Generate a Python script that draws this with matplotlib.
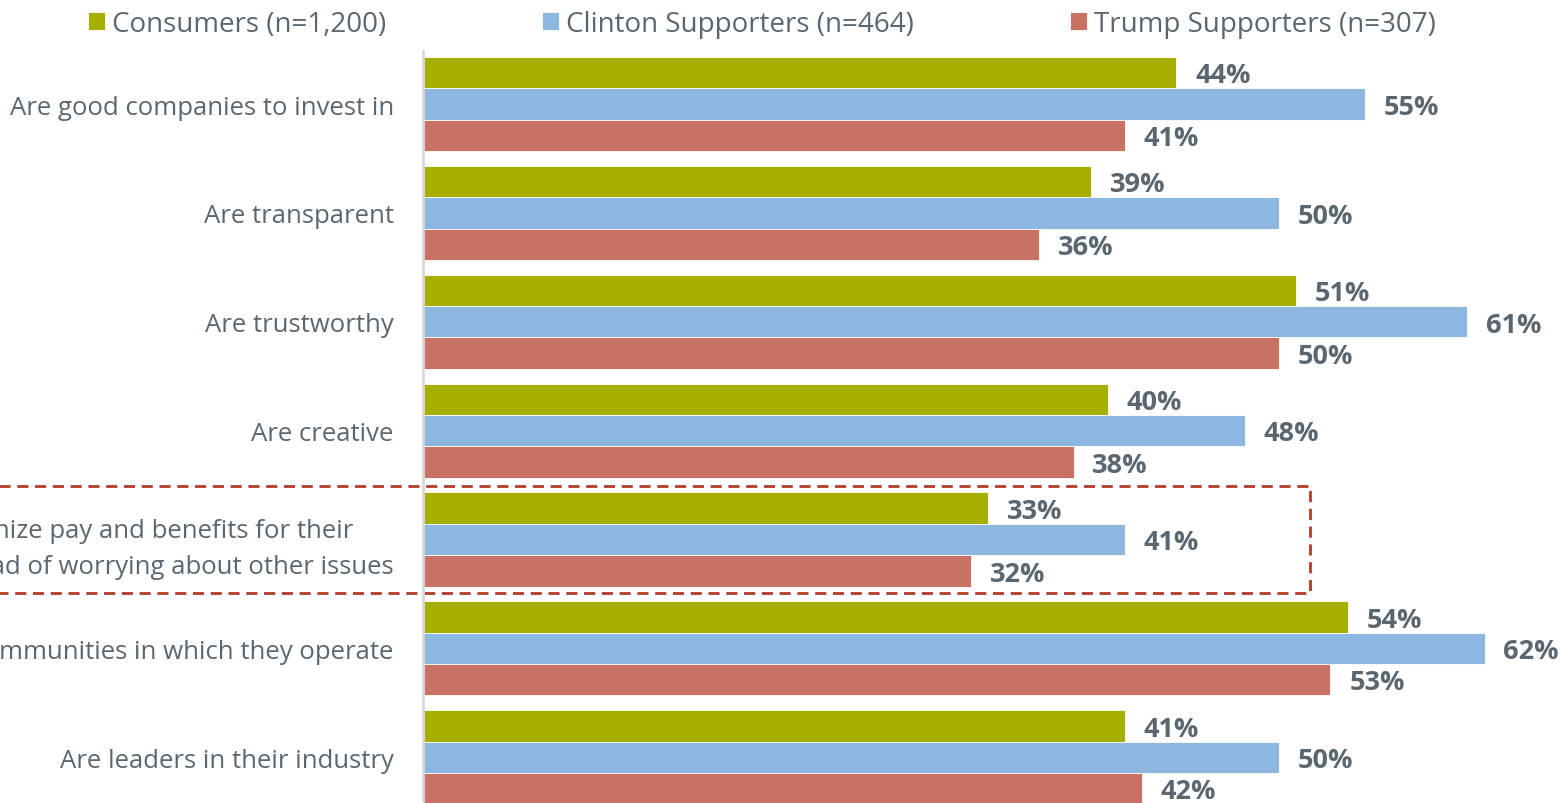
import matplotlib.pyplot as plt
from matplotlib.patches import Rectangle
import numpy as np

plt.rcParams['font.family'] = ['Open Sans', 'DejaVu Sans']

categories = [
    "Are good companies to invest in",
    "Are transparent",
    "Are trustworthy",
    "Are creative",
    "Should maximize pay and benefits for their\nemployees instead of worrying about other issues",
    "Are good for the communities in which they operate",
    "Are leaders in their industry",
]
series = ["Consumers (n=1,200)", "Clinton Supporters (n=464)", "Trump Supporters (n=307)"]
consumers = [44, 39, 51, 40, 33, 54, 41]
clinton = [55, 50, 61, 48, 41, 62, 50]
trump = [41, 36, 50, 38, 32, 53, 42]
highlight = 4

colors = ["#a6ae00", "#8db7de", "#c77264"]
text_gray = "#5b6770"

fig = plt.figure(figsize=(15.63, 8.04), dpi=100)
ax = fig.add_axes([0.2706, 0.0, 0.723, 0.9353])

y = np.arange(len(categories))
h = 0.288
for k, (vals, col) in enumerate(zip([consumers, clinton, trump], colors)):
    pos = y + (k - 1) * h
    ax.barh(pos, vals, height=h, color=col, edgecolor="white", linewidth=0.6, label=series[k])
    for p, v in zip(pos, vals):
        # small downward nudge so the bold digits sit centred on the bar
        ax.text(v + 1.1, p + 0.025, f"{v}%", va="center", ha="left", fontsize=19.5,
                fontweight="bold", color=text_gray)

ax.set_xlim(0, 66)
ax.set_ylim(6.42, -0.487)
ax.set_yticks(y)
ax.set_yticklabels(categories, fontsize=18.5, color=text_gray, multialignment="center")
for t in ax.get_yticklabels():
    t.set_linespacing(1.6)
ax.tick_params(axis="y", length=0, pad=21)
ax.set_xticks([])
for s in ["top", "right", "bottom"]:
    ax.spines[s].set_visible(False)
ax.spines["left"].set_color("#d9d9d9")
ax.spines["left"].set_linewidth(2)

# dashed box around the pay-and-benefits group
box = Rectangle((-40, highlight - 0.49), 40 + 51.8, 0.98, fill=False,
                edgecolor="#b33b2a", linestyle=(0, (4, 2.4)), linewidth=2, clip_on=False)
ax.add_patch(box)

leg = fig.legend(loc="center", bbox_to_anchor=(0.4875, 0.969), ncol=3, frameon=False,
                 fontsize=20, handlelength=0.62, handleheight=0.62, handletextpad=0.25,
                 columnspacing=5.6)
for t in leg.get_texts():
    t.set_color(text_gray)

fig.savefig("out.png", dpi=100)
